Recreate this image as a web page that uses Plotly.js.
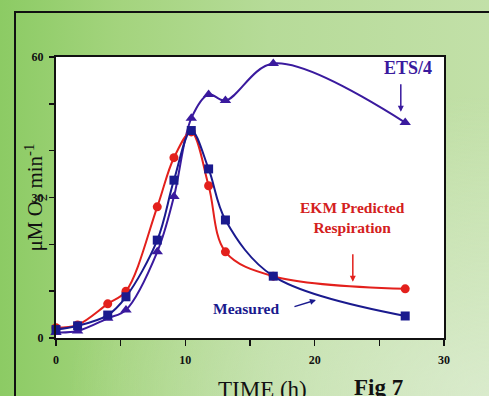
<!DOCTYPE html>
<html>
<head>
<meta charset="utf-8">
<script src="https://cdn.plot.ly/plotly-3.0.1.min.js"></script>
<style>
  html, body { margin:0; padding:0; width:489px; height:396px; overflow:hidden; }
  body {
    background:
      radial-gradient(ellipse 420px 300px at 100% 100%, rgba(220,236,208,0.9) 0%, rgba(220,236,208,0) 100%),
      linear-gradient(to right, #8ccb64 0%, #a4d47e 25%, #b6db98 55%, #c2e0a8 100%);
  }
  #frame { position:absolute; left:14px; top:11px; width:480px; height:400px;
           border-left:2px solid #111; border-top:2px solid #111; box-shadow:-1px -1px 0 #3a5a2a inset; }
  #chart { position:absolute; left:0; top:0; width:489px; height:396px; }
</style>
</head>
<body>
<div id="frame"></div>
<div id="chart"></div>
<script>
// Data
const timeH      = [0, 1.67, 4.0, 5.41, 7.83, 9.12, 10.46, 11.8, 13.1, 16.8, 27.0];
const ekmPred    = [2.2, 2.8, 7.3, 10.0, 28.0, 38.5, 44.0, 32.5, 18.4, 13.2, 10.5];
const measured   = [1.8, 2.6, 4.9, 8.8, 20.9, 33.7, 44.3, 36.1, 25.2, 13.2, 4.7];
const etsQuarter = [1.2, 1.5, 4.2, 6.0, 18.4, 30.2, 46.9, 52.0, 50.7, 58.6, 46.0];

const xTickVals = [0, 5, 10, 15, 20, 25, 30];
const xTickText = ['0', '', '10', '', '20', '', '30'];
const yTickVals = [0, 10, 20, 30, 40, 50, 60];
const yTickText = ['0', '', '', '30', '', '', '60'];

const RED = '#e3201c';
const NAVY = '#1a1a8e';
const PURPLE = '#3a1a9e';

const traces = [
  { x: timeH, y: etsQuarter, mode: 'lines+markers', line: {color: PURPLE, width: 2, shape: 'spline', smoothing: 1},
    marker: {symbol: 'triangle-up', size: 10, color: PURPLE}, cliponaxis: false, hoverinfo: 'none' },
  { x: timeH, y: ekmPred, mode: 'lines+markers', line: {color: RED, width: 2, shape: 'spline', smoothing: 1},
    marker: {symbol: 'circle', size: 9, color: RED}, cliponaxis: false, hoverinfo: 'none' },
  { x: timeH, y: measured, mode: 'lines+markers', line: {color: NAVY, width: 2, shape: 'spline', smoothing: 1},
    marker: {symbol: 'square', size: 9, color: NAVY}, cliponaxis: false, hoverinfo: 'none' }
];

const serif = '"Liberation Serif", "Times New Roman", serif';

const layout = {
  width: 489, height: 396,
  margin: {l: 56, r: 45, t: 57, b: 58, pad: 0},
  paper_bgcolor: 'rgba(0,0,0,0)',
  plot_bgcolor: '#ffffff',
  showlegend: false,
  font: {family: serif, color: '#111'},
  xaxis: {
    range: [0, 30], tickvals: xTickVals, ticktext: xTickText,
    ticks: 'outside', ticklen: 6, tickwidth: 1.5, tickcolor: '#111',
    showline: true, linecolor: '#111', linewidth: 2, mirror: true,
    showgrid: false, zeroline: false,
    tickfont: {family: serif, size: 12, color: '#111', weight: 'bold'},
    ticklabelstandoff: 4
  },
  yaxis: {
    range: [0, 60], tickvals: yTickVals, ticktext: yTickText,
    ticks: 'outside', ticklen: 5, tickwidth: 1.5, tickcolor: '#111',
    showline: true, linecolor: '#111', linewidth: 2, mirror: true,
    showgrid: false, zeroline: false,
    tickfont: {family: serif, size: 12, color: '#111', weight: 'bold'},
    ticklabelstandoff: 3
  },
  annotations: [
    { text: 'ETS/4', x: 27.19, y: 57.65, xref: 'x', yref: 'y', showarrow: false,
      font: {family: serif, size: 18, color: PURPLE, weight: 'bold'} },
    { text: '', x: 26.66, y: 48.3, xref: 'x', yref: 'y', showarrow: true, ax: 0, ay: -29,
      arrowcolor: PURPLE, arrowwidth: 1.5, arrowhead: 2, arrowsize: 0.8 },
    { text: 'EKM Predicted<br>Respiration', x: 22.92, y: 25.8, xref: 'x', yref: 'y', showarrow: false,
      font: {family: serif, size: 15.5, color: '#d42020', weight: 'bold'} },
    { text: '', x: 22.95, y: 12.0, xref: 'x', yref: 'y', showarrow: true, ax: 0, ay: -29,
      arrowcolor: RED, arrowwidth: 1.5, arrowhead: 2, arrowsize: 0.8 },
    { text: 'Measured', x: 14.72, y: 6.34, xref: 'x', yref: 'y', showarrow: false,
      font: {family: serif, size: 15.5, color: NAVY, weight: 'bold'} },
    { text: '', x: 20.1, y: 8.1, xref: 'x', yref: 'y', showarrow: true, ax: -23, ay: 7,
      arrowcolor: NAVY, arrowwidth: 1.5, arrowhead: 2, arrowsize: 0.8 },
    { text: 'μM O<sub>2</sub> min<sup>-1</sup>', xref: 'paper', yref: 'paper',
      x: -0.054, y: 0.5, xanchor: 'center', yanchor: 'middle', textangle: -90, showarrow: false,
      font: {family: serif, size: 21, color: '#111'} },
    { text: 'TIME (h)', xref: 'paper', yref: 'paper', x: 0.532, y: -0.13, xanchor: 'center', yanchor: 'top',
      showarrow: false, font: {family: serif, size: 23, color: '#111'} },
    { text: 'Fig 7', xref: 'paper', yref: 'paper', x: 0.83, y: -0.125, xanchor: 'center', yanchor: 'top',
      showarrow: false, font: {family: serif, size: 23, color: '#111', weight: 'bold'} }
  ]
};

Plotly.newPlot('chart', traces, layout, {staticPlot: true, displayModeBar: false});
</script>
</body>
</html>
